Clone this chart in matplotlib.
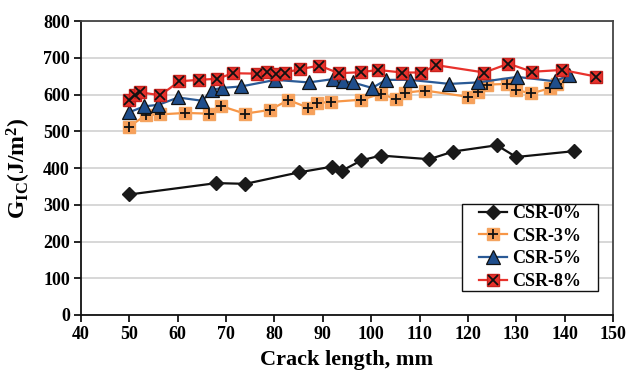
import matplotlib
matplotlib.use("Agg")
import matplotlib.pyplot as plt
from matplotlib.legend_handler import HandlerTuple
from matplotlib.patches import Rectangle

# Data
x0 = [50, 68, 74, 85, 92, 94, 98, 102, 112, 117, 126, 130, 142]
y0 = [328, 359, 357, 388, 404, 393, 421, 434, 424, 445, 462, 430, 446]

x3 = [50, 53.4, 56.4, 61.6, 66.4, 68.9, 73.9, 79, 82.9, 87, 88.9, 91.8, 98,
      102, 105.1, 107, 111.1, 120, 122, 124, 128.1, 130, 133, 137, 138.5]
y3 = [513, 544, 546, 550, 548, 569, 548, 558, 585, 564, 577, 580, 586,
      602, 588, 605, 611, 594, 606, 627, 629, 613, 603, 617, 630]

x5 = [50, 53.1, 56, 60.1, 65.1, 67.1, 69.1, 73.1, 80.2, 87.1, 92.1, 94.1, 96.2,
      100.2, 103.1, 108.1, 116.2, 122, 130.2, 138.1, 141]
y5 = [552, 568, 572, 592, 583, 613, 618, 622, 640, 633, 642, 636, 633,
      618, 640, 640, 629, 633, 648, 636, 654]

x8 = [50, 51.2, 52.3, 56.4, 60.3, 64.3, 68.2, 71.4, 76.4, 78.5, 80.3, 82.2, 85.3,
      89.3, 93.3, 98, 101.4, 106.4, 110.4, 113.5, 123.4, 128.4, 133.3, 139.5, 146.5]
y8 = [586, 599, 606, 598, 636, 640, 643, 658, 657, 661, 655, 660, 669,
      679, 658, 661, 667, 660, 660, 680, 660, 684, 662, 667, 649]

labels = ["CSR-0%", "CSR-3%", "CSR-5%", "CSR-8%"]
xticks = list(range(40, 151, 10))
yticks = list(range(0, 801, 100))

plt.rcParams['font.family'] = ['Liberation Serif', 'DejaVu Serif']
plt.rcParams['font.weight'] = 'bold'
plt.rcParams['mathtext.fontset'] = 'custom'
plt.rcParams['mathtext.rm'] = 'Liberation Serif:bold'
plt.rcParams['mathtext.bf'] = 'Liberation Serif:bold'
plt.rcParams['mathtext.it'] = 'Liberation Serif:bold'

fig = plt.figure(figsize=(6.28, 3.73), dpi=100)
ax = fig.add_axes([0.129, 0.1555, 0.847, 0.788])

c_orange = '#F79646'
c_blue = '#2A5A96'
c_red = '#E8322C'

h0, = ax.plot(x0, y0, color='#111111', lw=1.6, marker='D', ms=7.5,
              mfc='#1a1a1a', mec='#1a1a1a', zorder=3)

h3a, = ax.plot(x3, y3, color=c_orange, lw=1.6, marker='s', ms=8,
               mfc='#F8A05A', mec='#F4A460', zorder=4)
h3b, = ax.plot(x3, y3, ls='none', marker='+', ms=7, mew=1.3, color='#111111', zorder=5)

h5, = ax.plot(x5, y5, color=c_blue, lw=1.6, marker='^', ms=10,
              mfc='#1F4E8C', mec='#111111', mew=0.9, zorder=6)

h8a, = ax.plot(x8, y8, color=c_red, lw=1.6, marker='s', ms=9,
               mfc=c_red, mec='#C8231E', zorder=7)
h8b, = ax.plot(x8, y8, ls='none', marker='x', ms=7, mew=1.3, color='#111111', zorder=8)

ax.set_xlim(40, 150)
ax.set_ylim(0, 800)
ax.set_xticks(xticks)
ax.set_yticks(yticks)
ax.yaxis.grid(True, color='#D4D4D4', lw=1.3)
ax.set_axisbelow(True)

for s in ['left', 'bottom']:
    ax.spines[s].set_color('#111111')
    ax.spines[s].set_linewidth(1.3)
for s in ['top', 'right']:
    ax.spines[s].set_color('#444444')
    ax.spines[s].set_linewidth(1.3)

ax.tick_params(axis='both', direction='out', length=5, width=1.2, labelsize=13, pad=3)
for lab in ax.get_xticklabels() + ax.get_yticklabels():
    lab.set_fontweight('bold')

ax.set_xlabel('Crack length, mm', fontsize=16, fontweight='bold', labelpad=5)
ax.set_ylabel(r'$\mathbf{G}_{\mathbf{IC}}$(J/m$^{\mathbf{2}}$)', fontsize=17, fontweight='bold', labelpad=7)

# Legend frame
ax.add_patch(Rectangle((0.716, 0.0816), 0.2556, 0.296, transform=ax.transAxes,
                       facecolor='white', edgecolor='#111111', lw=1.0, zorder=20))

leg = ax.legend([h0, (h3a, h3b), h5, (h8a, h8b)], labels,
                handler_map={tuple: HandlerTuple(ndivide=1)},
                loc='center', bbox_to_anchor=(0.844, 0.2296),
                frameon=False, handlelength=1.55,
                handletextpad=0.25, borderpad=0, borderaxespad=0, labelspacing=0.32,
                prop={'weight': 'bold', 'size': 13})
leg.set_zorder(21)

fig.savefig('out.png', dpi=100)
